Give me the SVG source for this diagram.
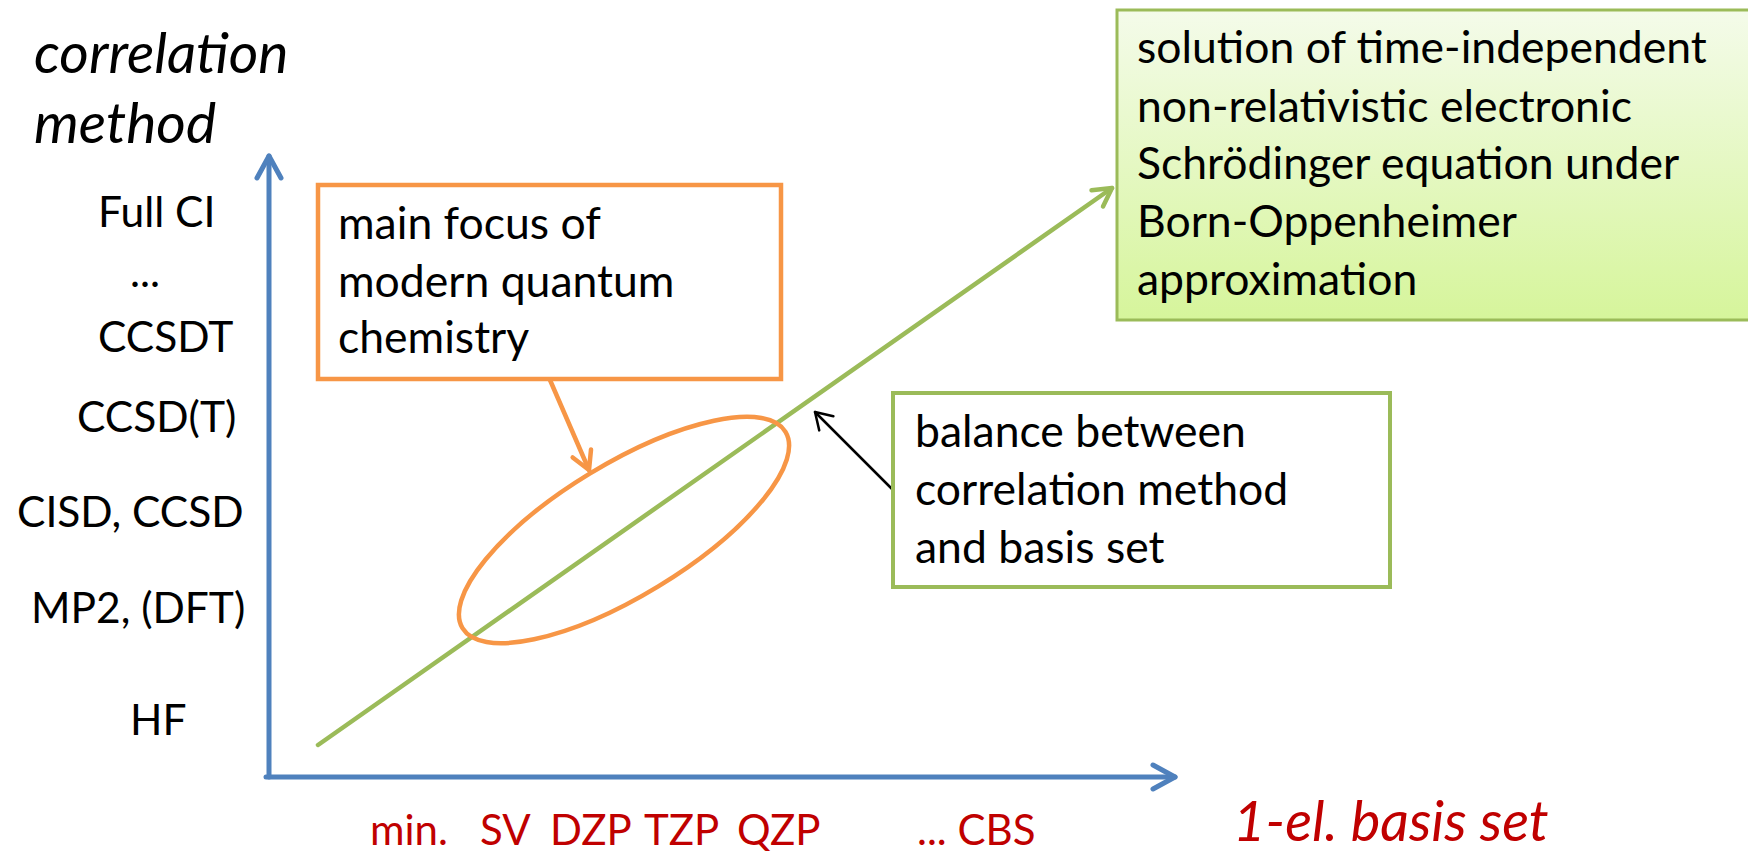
<svg xmlns="http://www.w3.org/2000/svg" width="1748" height="854" viewBox="0 0 1748 854">
<defs>
<style>
text{font-family:Lato,"Open Sans","Liberation Sans",sans-serif;fill:#000}
.lbl{font-size:42.5px}
.box{font-size:44.5px}
.title{font-size:57px;font-style:italic}
.red{fill:#c00000;font-size:42px}
.redi{fill:#c00000;font-size:56px;font-style:italic}
</style>
<linearGradient id="gg" x1="0" y1="0" x2="0" y2="1">
<stop offset="0" stop-color="#f4fbea"/>
<stop offset="1" stop-color="#d6f59b"/>
</linearGradient>
<marker id="mBlue" markerUnits="userSpaceOnUse" viewBox="-30 -16 34 32" refX="0" refY="0" markerWidth="34" markerHeight="32" orient="auto">
<path d="M-22,-12 L0,0 L-22,12" fill="none" stroke="#4f81bd" stroke-width="5" stroke-linecap="round" stroke-linejoin="round"/>
</marker>
<marker id="mGreen" markerUnits="userSpaceOnUse" viewBox="-26 -14 30 28" refX="0" refY="0" markerWidth="30" markerHeight="28" orient="auto">
<path d="M-18,-10 L0,0 L-18,10" fill="none" stroke="#9bbb59" stroke-width="4.5" stroke-linecap="round" stroke-linejoin="round"/>
</marker>
<marker id="mOrange" markerUnits="userSpaceOnUse" viewBox="-26 -14 30 28" refX="0" refY="0" markerWidth="30" markerHeight="28" orient="auto">
<path d="M-18,-10 L0,0 L-18,10" fill="none" stroke="#f79646" stroke-width="4.5" stroke-linecap="round" stroke-linejoin="round"/>
</marker>
<marker id="mBlack" markerUnits="userSpaceOnUse" viewBox="-22 -13 26 26" refX="0" refY="0" markerWidth="26" markerHeight="26" orient="auto">
<path d="M-16,-10 L0,0 L-16,10" fill="none" stroke="#000" stroke-width="2.5" stroke-linecap="round" stroke-linejoin="round"/>
</marker>
</defs>
<rect width="1748" height="854" fill="#fff"/>

<g id="axis-labels">
<text class="title" x="34" y="73">correlation</text>
<text class="title" x="34" y="143">method</text>
<text class="lbl" x="98" y="227">Full CI</text>
<text class="lbl" x="130" y="287">...</text>
<text class="lbl" x="98" y="352">CCSDT</text>
<text class="lbl" x="77" y="432">CCSD(T)</text>
<text class="lbl" x="17" y="527">CISD, CCSD</text>
<text class="lbl" x="31" y="623">MP2, (DFT)</text>
<text class="lbl" x="130" y="735">HF</text>
<text class="red" x="370" y="845">min.</text>
<text class="red" x="480" y="845">SV</text>
<text class="red" x="550" y="845">DZP</text>
<text class="red" x="644" y="845">TZP</text>
<text class="red" x="737" y="845">QZP</text>
<text class="red" x="917" y="845">... CBS</text>
<text class="redi" x="1233" y="841">1-el. basis set</text>
</g>

<g id="connectors" fill="none" stroke-linecap="round">
<path d="M269,777 L269,156" stroke="#4f81bd" stroke-width="5" marker-end="url(#mBlue)"/>
<path d="M266,777 L1175,777" stroke="#4f81bd" stroke-width="5" marker-end="url(#mBlue)"/>
<path d="M318,745 L1112,188" stroke="#9bbb59" stroke-width="4.5" marker-end="url(#mGreen)"/>
<path d="M550,380 L589,470" stroke="#f79646" stroke-width="4.5" marker-end="url(#mOrange)"/>
<path d="M893,490 L815,412" stroke="#000" stroke-width="2.5" marker-end="url(#mBlack)"/>
</g>

<g id="ellipse-region">
<ellipse cx="624" cy="530" rx="189" ry="66" transform="rotate(-31.3 624 530)" fill="none" stroke="#f79646" stroke-width="4.5"/>
</g>

<g id="node-focus">
<rect x="318" y="185" width="463" height="194" fill="#fff" stroke="#f79646" stroke-width="4.5"/>
<text class="box" x="338" y="239">main focus of</text>
<text class="box" x="338" y="297">modern quantum</text>
<text class="box" x="338" y="353">chemistry</text>
</g>

<g id="node-balance">
<rect x="893" y="393" width="497" height="194" fill="#fff" stroke="#9bbb59" stroke-width="4"/>
<text class="box" x="915" y="447">balance between</text>
<text class="box" x="915" y="505">correlation method</text>
<text class="box" x="915" y="563">and basis set</text>
</g>

<g id="node-solution">
<rect x="1117" y="10" width="633" height="310" fill="url(#gg)" stroke="#9bbb59" stroke-width="3"/>
<text class="box" x="1137" y="63">solution of time-independent</text>
<text class="box" x="1137" y="122">non-relativistic electronic</text>
<text class="box" x="1137" y="179">Schrödinger equation under</text>
<text class="box" x="1137" y="237">Born-Oppenheimer</text>
<text class="box" x="1137" y="295">approximation</text>
</g>
</svg>
